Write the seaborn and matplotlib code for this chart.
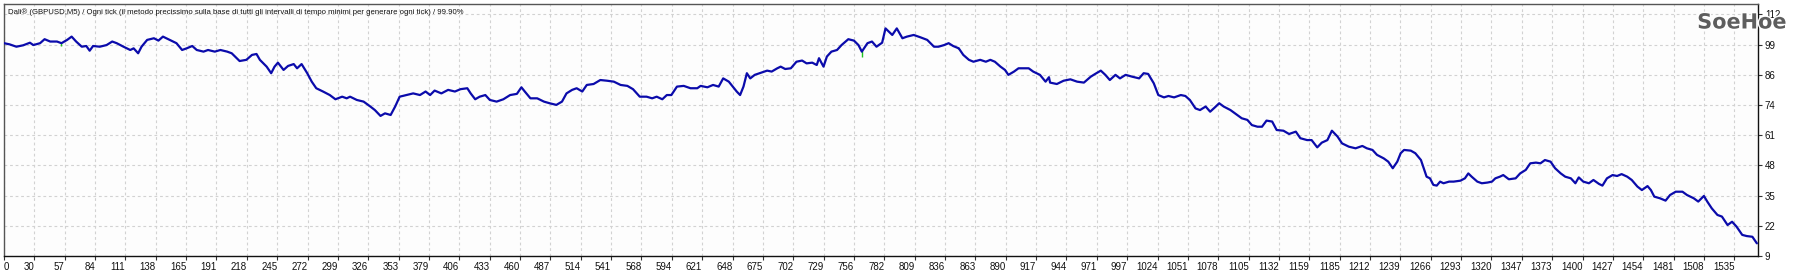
import matplotlib
matplotlib.use("Agg")
import matplotlib.pyplot as plt
import matplotlib.font_manager as fm
import matplotlib.patheffects as pe
import seaborn as sns
import pandas as pd

# ---------------- data ----------------
title_text = ("Dali\u00ae (GBPUSD,M5) / Ogni tick (il metodo precissimo sulla base di tutti gli "
              "intervalli di tempo minimi per generare ogni tick) / 99.90%")

x_tick_labels = ["0", "30", "57", "84", "111", "138", "165", "191", "218", "245", "272", "299",
                 "326", "353", "379", "406", "433", "460", "487", "514", "541", "568", "594",
                 "621", "648", "675", "702", "729", "756", "782", "809", "836", "863", "890",
                 "917", "944", "971", "997", "1024", "1051", "1078", "1105", "1132", "1159",
                 "1185", "1212", "1239", "1266", "1293", "1320", "1347", "1373", "1400", "1427",
                 "1454", "1481", "1508", "1535"]
y_tick_labels = ["9", "22", "35", "48", "61", "74", "86", "99", "112"]

trade_num = [
    0, 5, 11, 17, 23, 26, 32, 36, 41, 47, 51, 56, 60, 64, 69, 73, 76, 79, 85, 91,
    96, 100, 106, 112, 115, 119, 122, 127, 133, 137, 141, 147, 153, 158, 162, 167, 171, 177, 181, 187,
    192, 198, 202, 205, 209, 215, 220, 224, 227, 233, 237, 240, 243, 248, 252, 257, 260, 264, 269, 273,
    277, 283, 289, 294, 300, 304,
    307, 313, 319, 325, 329, 334, 338, 343, 347, 351, 357, 363, 369, 374, 378, 382, 388, 394, 400, 405,
    411, 414, 418, 422, 427, 431, 437, 443, 449, 455, 459, 462, 467, 473, 479, 484, 490, 495, 499, 504,
    508, 513, 517, 523, 529, 535, 541, 547, 553, 558, 564, 570, 575, 579, 584, 588, 592, 597, 603, 609,
    615,
    618, 624, 629, 634, 638, 643, 647, 650, 653, 656, 659, 662, 666, 672, 677, 681, 686, 689, 693, 698,
    703, 708, 712, 717, 721, 723, 727, 730, 734, 739, 743, 749, 754, 758, 761, 766, 770, 774, 779, 782,
    785, 788, 792, 797, 801, 807, 813, 819, 825, 829, 834, 838, 842, 847, 851, 856, 860, 866, 871, 875,
    879, 884, 888, 891, 896, 900, 905, 909, 913, 919, 924, 927,
    928, 934, 940, 946, 952, 958, 964, 968, 973, 977, 981, 986, 990, 995, 1001, 1007, 1011, 1015, 1020, 1024,
    1029, 1033, 1038, 1044, 1048, 1052, 1057, 1061, 1066, 1070, 1075, 1078, 1082, 1088, 1094, 1098, 1103,
    1107, 1112, 1116, 1120, 1125, 1129, 1135, 1140, 1146, 1150, 1156, 1160, 1165, 1169, 1174, 1178, 1183,
    1187, 1193, 1199, 1205, 1209, 1214, 1218, 1224, 1228, 1232, 1236,
    1239, 1242, 1248, 1252, 1257, 1259, 1262, 1265, 1268, 1271, 1274, 1277, 1282, 1286, 1292, 1296, 1299,
    1302, 1307, 1311, 1316, 1320, 1323, 1327, 1330, 1335, 1341, 1345, 1350, 1354, 1359, 1363, 1367, 1372,
    1376, 1381, 1385, 1390, 1394, 1397, 1401, 1406, 1410, 1415, 1418, 1422, 1427, 1431, 1435, 1440, 1444,
    1449, 1453, 1458, 1461, 1464, 1469, 1474, 1478, 1483, 1489, 1493, 1499, 1503, 1508, 1511, 1515, 1520,
    1524, 1529, 1533, 1537, 1542, 1546, 1551, 1555,
]

balance = [
    99.7, 99.2, 98.2, 98.8, 99.9, 98.9, 99.7, 101.4, 100.4, 100.4, 99.7, 101.1, 102.5, 100.4, 98.2, 98.5,
    96.5, 98.5, 98.2, 98.9, 100.4, 99.7, 98.2, 96.8, 97.5, 95.4, 98.2, 101.1, 101.8, 100.8, 102.5, 101.1,
    99.7, 96.8, 97.5, 98.5, 96.8, 96.1, 96.8, 96.1, 96.8, 96.1, 95.4, 94.0, 92.1, 92.6, 94.7, 95.1, 92.6,
    89.7, 86.9, 89.7, 91.4, 88.3, 90.0, 90.8, 89.0, 90.8, 86.9, 83.3, 80.5, 79.1, 77.6, 75.8, 76.9, 76.2,
    76.9, 75.5, 74.8, 72.7, 71.2, 68.7, 69.8, 69.1, 72.7, 76.9, 77.6, 78.3, 77.6, 79.1, 77.6, 79.5, 78.3,
    79.8, 79.1, 80.1, 80.5, 78.3, 75.8, 76.9, 77.6, 75.5, 74.8, 75.8, 77.6, 78.1, 80.9, 79.1, 76.2, 76.2,
    74.8, 74.1, 73.4, 74.8, 78.3, 79.8, 80.5, 79.1, 81.9, 82.3, 84.0, 83.7, 83.3, 81.9, 81.5, 80.1, 76.9,
    76.9, 76.2, 76.9, 75.8, 77.6, 77.6, 81.2, 81.5, 80.5, 80.5,
    81.5, 80.9, 81.9, 81.2, 84.7, 83.3, 80.9, 79.1, 77.6, 81.2, 86.9, 84.7, 86.2, 87.2, 88.0, 87.6, 89.0,
    89.7, 88.7, 89.0, 91.8, 92.3, 91.1, 91.4, 90.4, 93.3, 89.7, 94.0, 96.1, 96.8, 98.9, 101.4, 100.8, 98.9,
    96.1, 99.7, 100.4, 98.2, 99.9, 106.0, 104.6, 103.2, 106.0, 101.8, 102.5, 103.2, 102.2, 101.1, 98.2,
    98.2, 98.9, 99.7, 98.5, 97.5, 94.7, 92.6, 91.8, 92.6, 91.8, 92.6, 91.8, 89.7, 88.3, 86.2, 87.6, 89.0,
    89.0, 89.0, 87.6, 86.2, 83.3, 85.2,
    82.9, 82.3, 83.7, 84.3, 83.3, 82.9, 85.4, 86.6, 88.0, 86.2, 84.0, 86.2, 84.7, 86.2, 85.4, 84.7, 86.9,
    86.6, 82.6, 77.6, 76.6, 77.2, 76.6, 77.6, 77.2, 75.5, 71.9, 71.2, 72.7, 70.5, 72.7, 74.1, 72.7, 71.2,
    69.1, 67.7, 67.0, 64.8, 64.1, 64.1, 66.7, 66.3, 62.7, 62.4, 61.0, 62.0, 59.2, 58.4, 58.4, 55.3, 57.3,
    58.4, 62.4, 59.9, 57.0, 55.6, 54.9, 55.9, 54.9, 54.2, 52.1, 50.6, 49.2, 46.4, 49.2,
    52.8, 54.2, 53.9, 52.8, 49.9, 47.1, 42.8, 42.1, 39.3, 39.0, 40.7, 40.0, 40.7, 40.7, 41.1, 42.1, 44.2,
    42.8, 40.7, 40.0, 40.3, 40.7, 42.1, 42.8, 43.5, 41.7, 42.1, 44.2, 45.7, 48.5, 48.8, 48.5, 49.9, 49.2,
    46.4, 44.2, 42.8, 42.1, 40.0, 42.5, 40.7, 40.0, 41.4, 39.7, 39.0, 42.1, 43.5, 43.1, 43.9, 42.8, 41.4,
    38.6, 37.1, 38.8, 37.1, 34.3, 33.6, 32.6, 35.0, 36.4, 36.4, 35.0, 33.6, 32.2, 34.6, 32.2, 29.3, 26.5,
    25.8, 22.2, 23.6, 21.5, 18.0, 17.5, 17.2, 14.4,
]

# equity dips (green) that stick out below the balance line
equity_dip_trade = [51, 761, 846]
equity_dip_top = [99.7, 96.5, 98.0]
equity_dip_low = [98.6, 93.8, 97.4]

# ---------------- style ----------------
sns.set_style("white")


def pick_font(names):
    for n in names:
        try:
            fm.findfont(fm.FontProperties(family=n), fallback_to_default=False)
            return n
        except Exception:
            continue
    return "DejaVu Sans"


base_font = pick_font(["Liberation Sans", "DejaVu Sans"])
plt.rcParams["font.family"] = [base_font, "DejaVu Sans"]

W, H = 1800, 272
fig = plt.figure(figsize=(W / 100, H / 100), dpi=100)
fig.patch.set_facecolor("white")
ax = fig.add_axes([4 / W, 16 / H, 1754 / W, 252 / H])
ax.set_facecolor("#fdfdfd")

df = pd.DataFrame({"trade": trade_num, "balance": balance})

ax.vlines(equity_dip_trade, equity_dip_low, equity_dip_top, color="#1fc21f", linewidth=1.0, zorder=2)
sns.lineplot(data=df, x="trade", y="balance", ax=ax, color="#0b0bab", linewidth=1.6,
             sort=False, estimator=None, zorder=3)

x_step = 1535 / 57
y_step = (112 - 9) / 8
ax.set_xticks([i * x_step for i in range(len(x_tick_labels))])
ax.set_xticklabels(x_tick_labels)
ax.set_yticks([9 + i * y_step for i in range(len(y_tick_labels))])
ax.set_yticklabels(y_tick_labels)
ax.set_xlim(0, 1556)
ax.set_ylim(9, 116.4)
ax.set_xlabel("")
ax.set_ylabel("")

ax.yaxis.tick_right()
ax.grid(True, color="#d2d2d2", linestyle=(0, (2.5, 2.5)), linewidth=0.8)
ax.tick_params(axis="x", direction="out", length=3, width=0.8, color="#333333", pad=1,
               labelsize=7, labelcolor="#111111", bottom=True)
ax.tick_params(axis="y", direction="out", length=3, width=0.8, color="#333333", pad=2,
               labelsize=7, labelcolor="#111111", right=True, left=False)
for i, lbl in enumerate(ax.get_xticklabels()):
    lbl.set_ha("left" if i == 0 else "right")

for side in ["left", "top"]:
    ax.spines[side].set_color("#555555")
    ax.spines[side].set_linewidth(1.0)
for side in ["right", "bottom"]:
    ax.spines[side].set_color("#111111")
    ax.spines[side].set_linewidth(1.0)
    ax.spines[side].set_visible(True)

ax.text(4 / 1754, (256 - 12.5) / 252, title_text, transform=ax.transAxes, ha="left", va="center",
        fontsize=5.6, color="#111111")

fig.text(1742 / W, 1 - 22.5 / H, "SoeHoe", ha="center", va="center", fontsize=15,
         fontweight="bold", color="#5e5e5e", family="DejaVu Sans",
         path_effects=[pe.withStroke(linewidth=2.0, foreground="#ffffff")])

fig.savefig("out.png", dpi=100, facecolor="white")
